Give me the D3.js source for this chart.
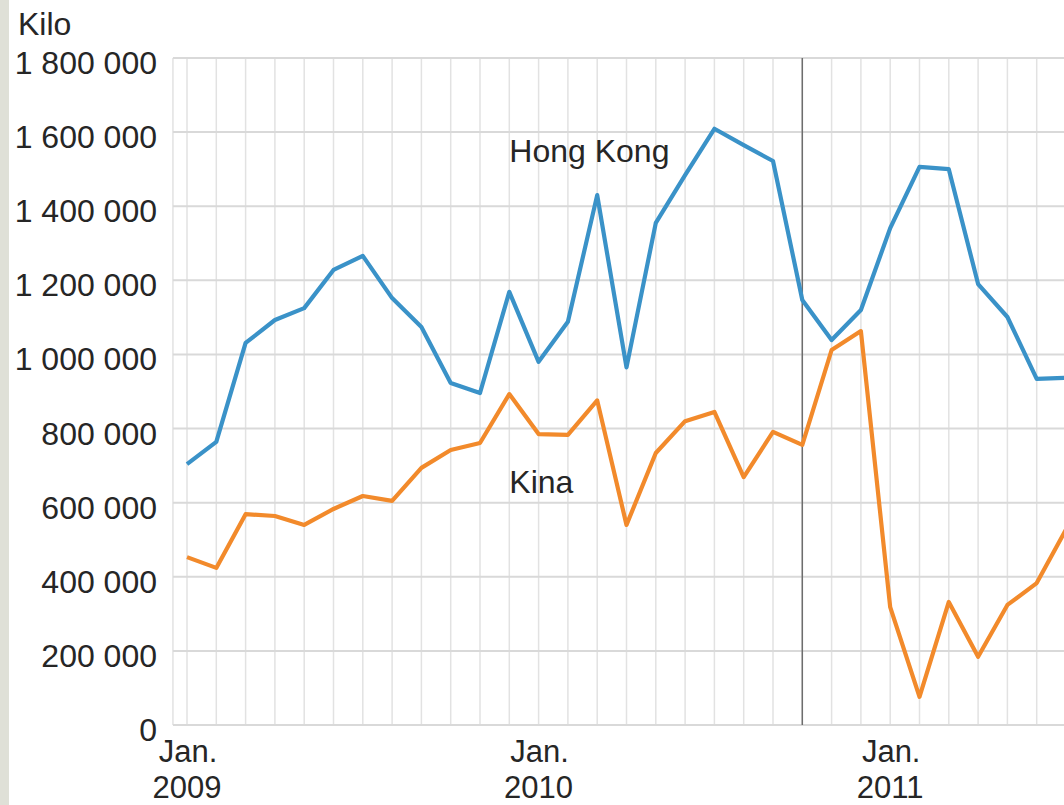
<!DOCTYPE html>
<html>
<head>
<meta charset="utf-8">
<script src="https://cdn.jsdelivr.net/npm/d3@7"></script>
<style>
  html, body { margin: 0; padding: 0; background: #fff; }
  svg { display: block; font-family: "Liberation Sans", Arial, sans-serif; }
</style>
</head>
<body>
<svg id="chart" width="1064" height="805"></svg>
<script>
// months from Jan. 2009 (index 0) to Jul. 2011 (index 30)
const months = ["2009-01","2009-02","2009-03","2009-04","2009-05","2009-06","2009-07","2009-08","2009-09","2009-10","2009-11","2009-12",
  "2010-01","2010-02","2010-03","2010-04","2010-05","2010-06","2010-07","2010-08","2010-09","2010-10","2010-11","2010-12",
  "2011-01","2011-02","2011-03","2011-04","2011-05","2011-06","2011-07"];

const hongKong = [704000, 764000, 1031000, 1093000, 1125000, 1228000, 1266000, 1152000, 1074000, 923000, 896000, 1169000,
  980000, 1088000, 1430000, 965000, 1355000, 1484000, 1609000, 1565000, 1522000, 1147000, 1039000, 1120000,
  1341000, 1506000, 1500000, 1190000, 1101000, 934000, 937000];

const kina = [453000, 424000, 569000, 564000, 540000, 583000, 618000, 605000, 694000, 742000, 761000, 893000,
  785000, 783000, 876000, 540000, 734000, 820000, 845000, 669000, 791000, 756000, 1012000, 1063000,
  318000, 76000, 332000, 184000, 324000, 383000, 528000];

const yTicks = [0, 200000, 400000, 600000, 800000, 1000000, 1200000, 1400000, 1600000, 1800000];
const xTickIdx = [0, 12, 24];
const xTickMonth = ["Jan.", "Jan.", "Jan."];
const xTickYear = ["2009", "2010", "2011"];
const markerIdx = 21; // Oct. 2010

const svg = d3.select("#chart");
const W = +svg.attr("width"), H = +svg.attr("height");

// left beige strip
svg.append("rect").attr("x", 0).attr("y", 0).attr("width", 9).attr("height", H).attr("fill", "#dfe0d7");

const x = d3.scaleLinear().domain([0, 30]).range([187, 1066]);
const y = d3.scaleLinear().domain([0, 1800000]).range([725, 58]);
const plotLeft = x(-0.48);

const fmt = d3.formatLocale({ decimal: ",", thousands: " ", grouping: [3], currency: ["", ""] }).format(",d");

// grid
const grid = svg.append("g");
grid.selectAll(".vg").data(months).enter().append("line")
  .attr("x1", (d, i) => x(i)).attr("x2", (d, i) => x(i))
  .attr("y1", y(1800000)).attr("y2", y(0))
  .attr("stroke", "#e2e2e2").attr("stroke-width", 1.5);
grid.append("line")
  .attr("x1", plotLeft).attr("x2", plotLeft).attr("y1", y(1800000)).attr("y2", y(0))
  .attr("stroke", "#e2e2e2").attr("stroke-width", 1.5);
grid.selectAll(".hg").data(yTicks).enter().append("line")
  .attr("x1", plotLeft).attr("x2", W)
  .attr("y1", d => y(d)).attr("y2", d => y(d))
  .attr("stroke", "#d9d9d9").attr("stroke-width", 2);

// marker line
svg.append("line")
  .attr("x1", x(markerIdx)).attr("x2", x(markerIdx))
  .attr("y1", y(1800000)).attr("y2", y(0))
  .attr("stroke", "#6d6d6d").attr("stroke-width", 1.5);

// y labels
svg.append("g").selectAll("text").data(yTicks).enter().append("text")
  .attr("x", 157).attr("y", d => y(d) + 16)
  .attr("text-anchor", "end")
  .attr("font-size", "32px").attr("fill", "#262626")
  .text(d => fmt(d));

svg.append("text").attr("x", 18).attr("y", 35)
  .attr("font-size", "32px").attr("fill", "#262626").text("Kilo");

// x labels
const xg = svg.append("g").attr("text-anchor", "middle")
  .attr("font-size", "31px").attr("fill", "#262626");
xg.selectAll(".m").data(xTickIdx).enter().append("text")
  .attr("x", d => x(d) + 1).attr("y", 762).text((d, i) => xTickMonth[i]);
xg.selectAll(".yr").data(xTickIdx).enter().append("text")
  .attr("x", d => x(d)).attr("y", 798).text((d, i) => xTickYear[i]);

// lines
const line = d3.line().x((d, i) => x(i)).y(d => y(d));
svg.append("path").datum(kina).attr("d", line)
  .attr("fill", "none").attr("stroke", "#f28a2b").attr("stroke-width", 4.2).attr("stroke-linejoin", "round");
svg.append("path").datum(hongKong).attr("d", line)
  .attr("fill", "none").attr("stroke", "#3a92c8").attr("stroke-width", 4.2).attr("stroke-linejoin", "round");

// series labels
svg.append("text").attr("x", x(11)).attr("y", 162)
  .attr("font-size", "32px").attr("fill", "#262626").text("Hong Kong");
svg.append("text").attr("x", x(11)).attr("y", 493)
  .attr("font-size", "32px").attr("fill", "#262626").text("Kina");
</script>
</body>
</html>
